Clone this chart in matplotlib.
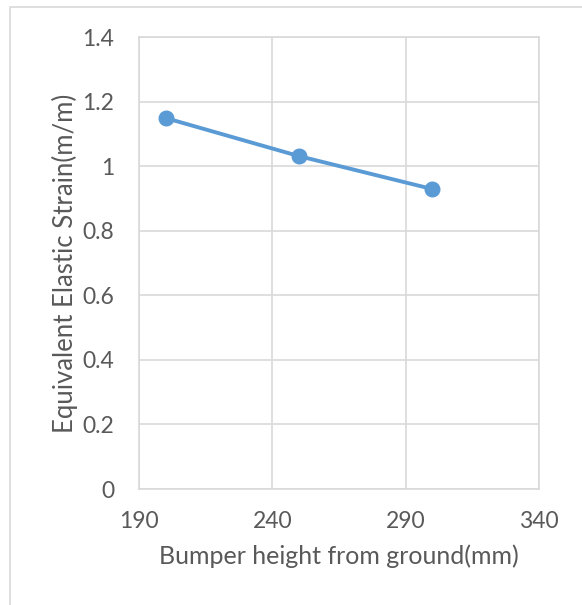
import matplotlib.pyplot as plt
from matplotlib.patches import Rectangle

heights = [200, 250, 300]
strain = [1.149, 1.031, 0.929]

x_ticks = [190, 240, 290, 340]
y_ticks = [0, 0.2, 0.4, 0.6, 0.8, 1.0, 1.2, 1.4]
y_labels = ['0', '0.2', '0.4', '0.6', '0.8', '1', '1.2', '1.4']

plt.rcParams['font.family'] = ['Lato', 'DejaVu Sans']
txt = '#595959'
grid = '#d9d9d9'
blue = '#5b9bd5'

fig = plt.figure(figsize=(5.82, 6.05), dpi=100)
fig.patches.append(Rectangle((10 / 582, -0.1), 1.0, 1.1 - 7 / 605, transform=fig.transFigure,
                             fill=False, edgecolor=grid, linewidth=1.2))

ax = fig.add_axes([139 / 582, 1 - 489 / 605, 400 / 582, 452 / 605])
ax.plot(heights, strain, color=blue, linewidth=2.8, marker='o', markersize=10.5, zorder=3)

ax.set_xlim(190, 340)
ax.set_ylim(0, 1.4)
ax.set_xticks(x_ticks)
ax.set_yticks(y_ticks)
ax.set_yticklabels(y_labels)
ax.grid(True, color=grid, linewidth=1.2)
for s in ax.spines.values():
    s.set_color(grid)
    s.set_linewidth(1.2)
ax.tick_params(length=0, labelsize=16.5, colors=txt)
ax.tick_params(axis='y', pad=18)
ax.tick_params(axis='x', pad=16)

ax.set_xlabel('Bumper height from ground(mm)', fontsize=18, color=txt, labelpad=9)
ax.set_ylabel('Equivalent Elastic Strain(m/m)', fontsize=18.5, color=txt, labelpad=3)

fig.savefig('out.png', dpi=100)
